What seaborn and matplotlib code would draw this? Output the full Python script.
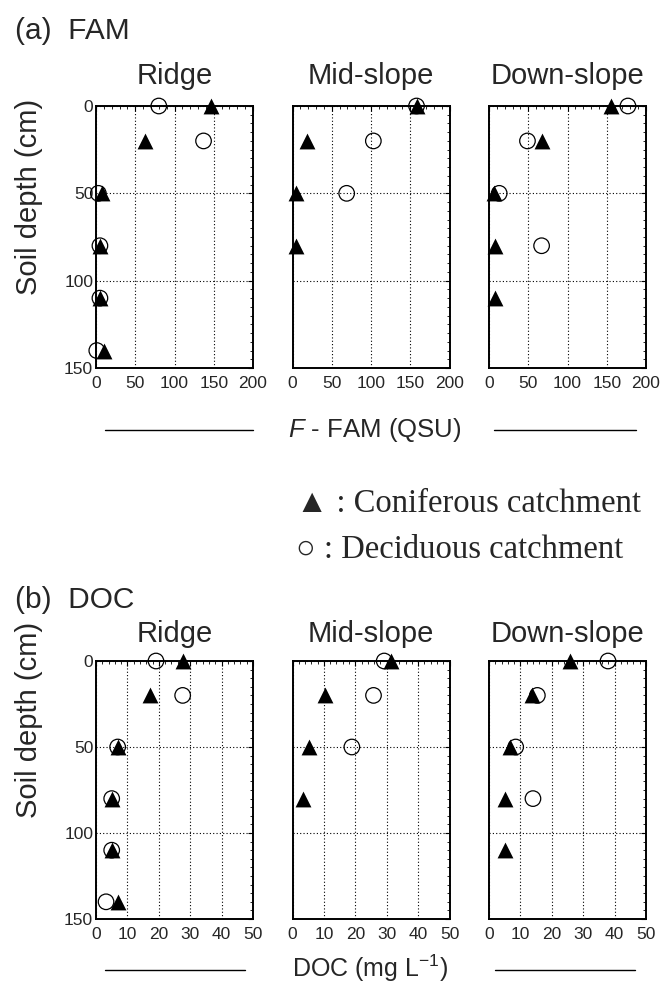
import pandas as pd
import matplotlib
matplotlib.use("Agg")
import matplotlib.pyplot as plt
import seaborn as sns
from matplotlib.lines import Line2D
from matplotlib.ticker import MultipleLocator

# --- DATA ---
sites = ["Ridge", "Mid-slope", "Down-slope"]

depth_ridge = [0, 20, 50, 80, 110, 140]
depth_mid_con = [0, 20, 50, 80]
depth_mid_dec = [0, 20, 50]
depth_down_con = [0, 20, 50, 80, 110]
depth_down_dec = [0, 20, 50, 80]

# F-FAM (QSU)
fam_ridge_con = [147, 62, 8, 5, 5, 10]
fam_ridge_dec = [80, 137, 3, 5, 5, 1]
fam_mid_con = [158, 18, 4, 4]
fam_mid_dec = [158, 103, 69]
fam_down_con = [155, 68, 6, 8, 8]
fam_down_dec = [177, 49, 13, 67]

# DOC (mg L-1)
doc_ridge_con = [27.8, 17.2, 7.0, 5.0, 5.0, 7.1]
doc_ridge_dec = [19.1, 27.6, 6.9, 5.0, 5.0, 3.2]
doc_mid_con = [31.3, 10.3, 5.3, 3.3]
doc_mid_dec = [29.2, 25.8, 18.9]
doc_down_con = [25.9, 13.8, 6.7, 5.0, 5.0]
doc_down_dec = [37.9, 15.4, 8.5, 14.0]


def long_table(var, series):
    rows = []
    for site, catch, depths, vals in series:
        for d, v in zip(depths, vals):
            rows.append({"var": var, "site": site, "catch": catch, "depth": d, "value": v})
    return rows


rows = long_table("FAM", [
    ("Ridge", "Coniferous", depth_ridge, fam_ridge_con),
    ("Ridge", "Deciduous", depth_ridge, fam_ridge_dec),
    ("Mid-slope", "Coniferous", depth_mid_con, fam_mid_con),
    ("Mid-slope", "Deciduous", depth_mid_dec, fam_mid_dec),
    ("Down-slope", "Coniferous", depth_down_con, fam_down_con),
    ("Down-slope", "Deciduous", depth_down_dec, fam_down_dec),
])
rows += long_table("DOC", [
    ("Ridge", "Coniferous", depth_ridge, doc_ridge_con),
    ("Ridge", "Deciduous", depth_ridge, doc_ridge_dec),
    ("Mid-slope", "Coniferous", depth_mid_con, doc_mid_con),
    ("Mid-slope", "Deciduous", depth_mid_dec, doc_mid_dec),
    ("Down-slope", "Coniferous", depth_down_con, doc_down_con),
    ("Down-slope", "Deciduous", depth_down_dec, doc_down_dec),
])
df = pd.DataFrame(rows)

# --- STYLE ---
sns.set_style("white")
plt.rcParams["font.family"] = ["Liberation Sans", "DejaVu Sans"]
plt.rcParams["mathtext.fontset"] = "custom"
plt.rcParams["mathtext.rm"] = "Liberation Sans"
plt.rcParams["mathtext.it"] = "Liberation Sans:italic"

W, H = 663, 992
fig = plt.figure(figsize=(W / 100, H / 100), dpi=100)


def px(x, y):
    return x / W, 1 - y / H


lefts = [96, 292.5, 489]
panel_w = 157
blocks = [
    # var, top px, bottom px, xmax, major, minor, title baseline px
    ("FAM", 106, 368, 200, 50, 10, 84),
    ("DOC", 661, 919, 50, 10, 2, 642),
]

for var, top, bot, xmax, major, minor, title_y in blocks:
    for i, site in enumerate(sites):
        ax = fig.add_axes([lefts[i] / W, 1 - bot / H, panel_w / W, (bot - top) / H])
        d = df[(df["var"] == var) & (df["site"] == site)]
        dec = d[d["catch"] == "Deciduous"]
        con = d[d["catch"] == "Coniferous"]
        sns.scatterplot(data=dec, x="value", y="depth", ax=ax, marker="o", s=125,
                        facecolor="none", edgecolor="black", linewidth=0.9,
                        clip_on=False, zorder=3, legend=False)
        sns.scatterplot(data=con, x="value", y="depth", ax=ax, marker="^", s=130,
                        color="black", edgecolor="black", linewidth=0,
                        clip_on=False, zorder=4, legend=False)
        ax.set_xlim(0, xmax)
        ax.set_ylim(150, 0)
        ax.xaxis.set_major_locator(MultipleLocator(major))
        ax.xaxis.set_minor_locator(MultipleLocator(minor))
        ax.yaxis.set_major_locator(MultipleLocator(50))
        ax.yaxis.set_minor_locator(MultipleLocator(5))
        ax.grid(True, which="major", color="black", linestyle=(0, (1, 2)), linewidth=0.8)
        ax.tick_params(which="both", direction="in", top=True, right=True,
                       labelsize=12.5, color="black")
        ax.tick_params(axis="x", which="major", length=3.5, pad=6)
        ax.tick_params(axis="y", which="major", length=3.5, pad=2)
        ax.tick_params(which="minor", length=2)
        for sp in ax.spines.values():
            sp.set_color("black")
            sp.set_linewidth(1.4)
        ax.set_xlabel("")
        ax.set_ylabel("")
        if i > 0:
            ax.set_yticklabels([])
        cx = lefts[i] + panel_w / 2
        fig.text(*px(cx, title_y), site, ha="center", va="baseline", fontsize=21)

# --- HEADERS, AXIS LABELS ---
fig.text(*px(15, 39), "(a)  FAM", ha="left", va="baseline", fontsize=21.5)
fig.text(*px(15, 608), "(b)  DOC", ha="left", va="baseline", fontsize=21.5)
fig.text(*px(29, 197), "Soil depth (cm)", rotation=90, ha="center", va="center", fontsize=21)
fig.text(*px(29, 720), "Soil depth (cm)", rotation=90, ha="center", va="center", fontsize=21)

fig.text(*px(375, 430), r"$\mathit{F}$ - FAM (QSU)", ha="center", va="center", fontsize=18.5)
fig.text(*px(370, 968), r"DOC (mg L$^{-1}$)", ha="center", va="center", fontsize=18)

for y, segs in [(430, [(105, 253), (494, 636)]), (970, [(105, 245), (495, 635)])]:
    for x0, x1 in segs:
        (a0, b0), (a1, b1) = px(x0, y), px(x1, y)
        fig.add_artist(Line2D([a0, a1], [b0, b1], color="black", linewidth=1.0))

# --- LEGEND ---
serif = ["Liberation Serif", "DejaVu Sans"]
fig.text(*px(296, 512), "\u25b2 : Coniferous catchment", ha="left", va="baseline",
         fontsize=23.5, family=serif)
fig.text(*px(296, 558), "\u25cb : Deciduous catchment", ha="left", va="baseline",
         fontsize=23.5, family=serif)

fig.savefig("out.png", dpi=100)
